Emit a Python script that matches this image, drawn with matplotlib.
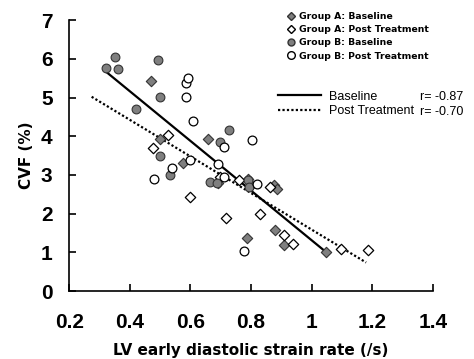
import matplotlib.pyplot as plt
from matplotlib.lines import Line2D
from matplotlib import font_manager

# Group A baseline (grey diamonds)
a_base_x = [0.469, 0.50, 0.574, 0.658, 0.691, 0.79, 0.80, 0.875, 0.887, 0.787, 0.88, 0.909, 1.046]
a_base_y = [5.43, 3.93, 3.30, 3.94, 2.80, 2.89, 2.74, 2.74, 2.64, 1.36, 1.59, 1.19, 1.02]
# Group A post treatment (open diamonds)
a_post_x = [0.475, 0.526, 0.598, 0.716, 0.697, 0.76, 0.83, 0.862, 0.91, 0.938, 1.098, 1.186]
a_post_y = [3.69, 4.03, 2.44, 1.88, 2.95, 2.87, 2.00, 2.70, 1.46, 1.23, 1.10, 1.06]
# Group B baseline (grey circles)
b_base_x = [0.321, 0.351, 0.362, 0.493, 0.499, 0.42, 0.499, 0.532, 0.727, 0.697, 0.664, 0.687, 0.79, 0.795]
b_base_y = [5.77, 6.04, 5.75, 5.97, 5.02, 4.70, 3.50, 3.00, 4.16, 3.86, 2.82, 2.80, 2.87, 2.70]
# Group B post treatment (open circles)
b_post_x = [0.587, 0.593, 0.585, 0.61, 0.803, 0.71, 0.60, 0.54, 0.48, 0.69, 0.82, 0.776, 0.71]
b_post_y = [5.37, 5.50, 5.02, 4.39, 3.90, 3.73, 3.39, 3.19, 2.89, 3.28, 2.76, 1.04, 2.95]

# regression lines (end points)
base_line_x = [0.321, 1.043]
base_line_y = [5.67, 1.04]
post_line_x = [0.274, 1.18]
post_line_y = [5.02, 0.74]

names = {f.name for f in font_manager.fontManager.ttflist}
narrow = 'Liberation Sans Narrow' if 'Liberation Sans Narrow' in names else 'Liberation Sans'

fig = plt.figure(figsize=(4.74, 3.59), dpi=100)
ax = fig.add_axes([0.146, 0.189, 0.767, 0.755])

grey = '#7f7f7f'
ms = 40
ax.scatter(a_base_x, a_base_y, marker='D', s=28, facecolor=grey, edgecolor='#333333', linewidth=0.8, zorder=3)
ax.scatter(a_post_x, a_post_y, marker='D', s=28, facecolor='white', edgecolor='black', linewidth=0.9, zorder=3)
ax.scatter(b_base_x, b_base_y, marker='o', s=ms, facecolor=grey, edgecolor='#333333', linewidth=0.8, zorder=3)
ax.scatter(b_post_x, b_post_y, marker='o', s=ms, facecolor='white', edgecolor='black', linewidth=0.9, zorder=3)

ax.plot(base_line_x, base_line_y, color='black', lw=1.6, zorder=2)
ax.plot(post_line_x, post_line_y, color='black', lw=1.6, ls=(0, (1, 1)), zorder=2)

ax.set_xlim(0.2, 1.4)
ax.set_ylim(0, 7)
ax.set_xticks([0.2, 0.4, 0.6, 0.8, 1.0, 1.2, 1.4])
ax.set_xticklabels(['0.2', '0.4', '0.6', '0.8', '1', '1.2', '1.4'])
ax.set_yticks(range(8))
ax.spines['top'].set_visible(False)
ax.spines['right'].set_visible(False)
ax.spines['left'].set_linewidth(1.2)
ax.spines['bottom'].set_linewidth(1.2)
ax.tick_params(direction='in', length=5, width=1.2, labelsize=15)
ax.tick_params(axis='x', pad=16)
ax.tick_params(axis='y', pad=12)
for lab in ax.get_xticklabels() + ax.get_yticklabels():
    lab.set_fontweight('bold')
    lab.set_family(narrow)
ax.set_xlabel('LV early diastolic strain rate (/s)', fontsize=11, fontweight='bold', labelpad=8)
ax.set_ylabel('CVF (%)', fontsize=11, fontweight='bold', labelpad=5)

# marker legend
handles = [
    Line2D([], [], ls='', marker='D', ms=4.5, mfc=grey, mec='#333333'),
    Line2D([], [], ls='', marker='D', ms=4.5, mfc='white', mec='black'),
    Line2D([], [], ls='', marker='o', ms=5, mfc=grey, mec='#333333'),
    Line2D([], [], ls='', marker='o', ms=5.5, mfc='white', mec='black'),
]
labels = ['Group A: Baseline', 'Group A: Post Treatment', 'Group B: Baseline', 'Group B: Post Treatment']
leg1 = ax.legend(handles, labels, loc='upper left', bbox_to_anchor=(0.60, 1.03), frameon=False,
                 prop={'size': 6.7, 'weight': 'bold', 'family': 'DejaVu Sans'}, handletextpad=0.5,
                 labelspacing=0.45, handlelength=0.8, borderaxespad=0, borderpad=0)
ax.add_artist(leg1)

line_handles = [
    Line2D([], [], color='black', lw=1.6),
    Line2D([], [], color='black', lw=1.6, ls=(0, (1, 1))),
]
ax.legend(line_handles, ['Baseline', 'Post Treatment'], loc='upper left', bbox_to_anchor=(0.575, 0.74),
          frameon=False, prop={'size': 9, 'family': narrow}, handlelength=3.4, handletextpad=0.7,
          labelspacing=0.2, borderaxespad=0, borderpad=0)
ax.text(0.965, 0.715, 'r= -0.87', transform=ax.transAxes, fontsize=9, family=narrow, va='center', ha='left')
ax.text(0.965, 0.660, 'r= -0.70', transform=ax.transAxes, fontsize=9, family=narrow, va='center', ha='left')

fig.savefig('out.png', dpi=100)
